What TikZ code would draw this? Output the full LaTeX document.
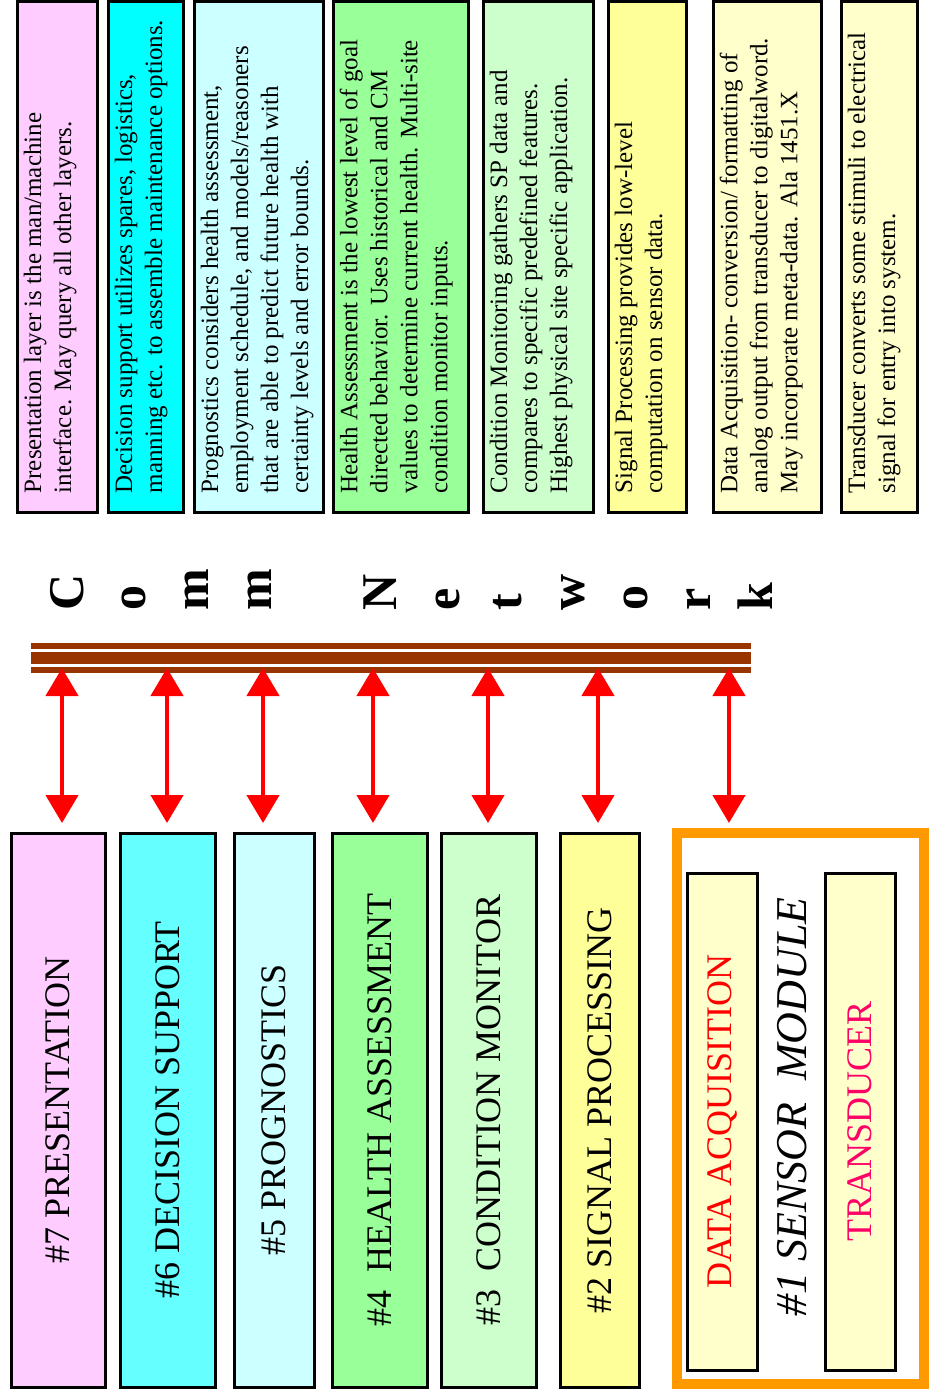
\documentclass[tikz,border=0pt]{standalone}
\usepackage{fontspec}
\setmainfont{Liberation Serif}
\usetikzlibrary{arrows.meta}

\definecolor{presPink}{HTML}{FFCCFF}
\definecolor{dsupCyan}{HTML}{00FFFF}
\definecolor{dsupLayer}{HTML}{66FFFF}
\definecolor{progCyan}{HTML}{CCFFFF}
\definecolor{hassGreen}{HTML}{99FF99}
\definecolor{cmonGreen}{HTML}{CCFFCC}
\definecolor{sigpYellow}{HTML}{FFFF99}
\definecolor{sensYellow}{HTML}{FFFFCC}
\definecolor{modOrange}{HTML}{FF9900}
\definecolor{busBrown}{HTML}{993300}
\definecolor{transPink}{HTML}{FF0066}

\begin{document}
\begin{tikzpicture}[x=1pt,y=-1pt,
  infobox/.style={draw,line width=3pt,minimum height=511pt,inner sep=0pt},
  infotext/.style={rotate=90,anchor=north west,inner sep=0pt,align=left,font=\fontsize{25}{30}\selectfont},
  layerbox/.style={draw,line width=3pt,rotate=90,minimum width=554pt,inner sep=0pt,font=\fontsize{36}{40}\selectfont},
  sensbox/.style={draw,line width=3pt,rotate=90,minimum width=497pt,minimum height=70pt,fill=sensYellow,inner sep=0pt,font=\fontsize{36}{40}\selectfont},
  busletter/.style={rotate=90,anchor=base west,inner sep=0pt,font=\fontsize{50}{50}\selectfont\bfseries},
  busarrow/.style={{Triangle[width=32pt,length=28pt]}-{Triangle[width=32pt,length=28pt]},red,line width=4.5pt}]

  \useasboundingbox (0,0) rectangle (929,1395);

  % descriptions
  \node[infobox,fill=presPink,minimum width=80pt] (i7) at (57,256.5) {};
  \node[infobox,fill=dsupCyan,minimum width=75pt] (i6) at (145.5,256.5) {};
  \node[infobox,fill=progCyan,minimum width=129pt] (i5) at (258.5,256.5) {};
  \node[infobox,fill=hassGreen,minimum width=135pt] (i4) at (400.5,256.5) {};
  \node[infobox,fill=cmonGreen,minimum width=110pt] (i3) at (538,256.5) {};
  \node[infobox,fill=sigpYellow,minimum width=78pt] (i2) at (647,256.5) {};
  \node[infobox,fill=sensYellow,minimum width=108pt] (i1a) at (767,256.5) {};
  \node[infobox,fill=sensYellow,minimum width=76pt] (i1b) at (879,256.5) {};

  \node[infotext] (t7) at ([xshift=8pt,yshift=20pt]i7.south west)
    {Presentation layer is the man/machine\\interface.  May query all other layers.};
  \node[infotext] (t6) at ([xshift=8pt,yshift=20pt]i6.south west)
    {Decision support utilizes spares, logistics,\\manning etc.  to assemble maintenance options.};
  \node[infotext] (t5) at ([xshift=8pt,yshift=20pt]i5.south west)
    {Prognostics considers health assessment,\\employment schedule, and models/reasoners\\that are able to predict future health with\\certainty levels and error bounds.};
  \node[infotext] (t4) at ([xshift=8pt,yshift=20pt]i4.south west)
    {Health Assessment is the lowest level of goal\\directed behavior.  Uses historical and CM\\values to determine current health.  Multi-site\\condition monitor inputs.};
  \node[infotext] (t3) at ([xshift=8pt,yshift=20pt]i3.south west)
    {Condition Monitoring gathers SP data and\\compares to specific predefined features.\\Highest physical site specific application.};
  \node[infotext] (t2) at ([xshift=8pt,yshift=20pt]i2.south west)
    {Signal Processing provides low-level\\computation on sensor data.};
  \node[infotext] (t1a) at ([xshift=8pt,yshift=20pt]i1a.south west)
    {Data Acquisition- conversion/ formatting of\\analog output from transducer to digitalword.\\May incorporate meta-data.  Ala  1451.X};
  \node[infotext] (t1b) at ([xshift=8pt,yshift=20pt]i1b.south west)
    {Transducer converts some stimuli to electrical\\signal for entry into system.};

  % comm network
  \foreach \ch/\k in {C/0,o/1,m/2,m/3,N/5,e/6,t/7,w/8,o/9,r/10,k/11}
    \node[busletter] (c\k) at (83+62.7*\k,611) {\ch};
  \fill[busBrown] (31,643) rectangle (751,649);
  \fill[busBrown] (31,652) rectangle (751,664);
  \fill[busBrown] (31,667) rectangle (751,673);

  % layers
  \node[layerbox,fill=presPink,minimum height=94pt] (L7) at (58,1110) {\#7 PRESENTATION};
  \node[layerbox,fill=dsupLayer,minimum height=95pt] (L6) at (167.5,1110) {\#6 DECISION SUPPORT};
  \node[layerbox,fill=progCyan,minimum height=80pt] (L5) at (274,1110) {\#5 PROGNOSTICS};
  \node[layerbox,fill=hassGreen,minimum height=95pt] (L4) at (379.5,1110) {\#4\ \ HEALTH ASSESSMENT};
  \node[layerbox,fill=cmonGreen,minimum height=95pt] (L3) at (488.5,1110) {\#3\ \ CONDITION MONITOR};
  \node[layerbox,fill=sigpYellow,minimum height=79pt] (L2) at (599.5,1110) {\#2 SIGNAL PROCESSING};

  \node[draw=modOrange,line width=10pt,minimum width=247pt,minimum height=551pt,inner sep=0pt] (L1) at (800.5,1108.5) {};
  \node[sensbox,text=red] (dacq) at (722,1121.5) {DATA ACQUISITION};
  \node[sensbox,text=transPink] (trans) at (860,1121.5) {TRANSDUCER};
  \node[rotate=90,inner sep=0pt,font=\fontsize{44}{44}\selectfont\itshape] (sens) at (792,1107) {\#1 SENSOR\ \ MODULE};

  % links to the bus
  \foreach \n/\x in {7/62,6/167,5/263,4/373,3/488,2/598,1/729}{
    \coordinate (a\n) at (\x,668);
    \coordinate (b\n) at (\x,823);
    \draw[busarrow] (a\n) -- (b\n);
  }

\end{tikzpicture}
\end{document}
